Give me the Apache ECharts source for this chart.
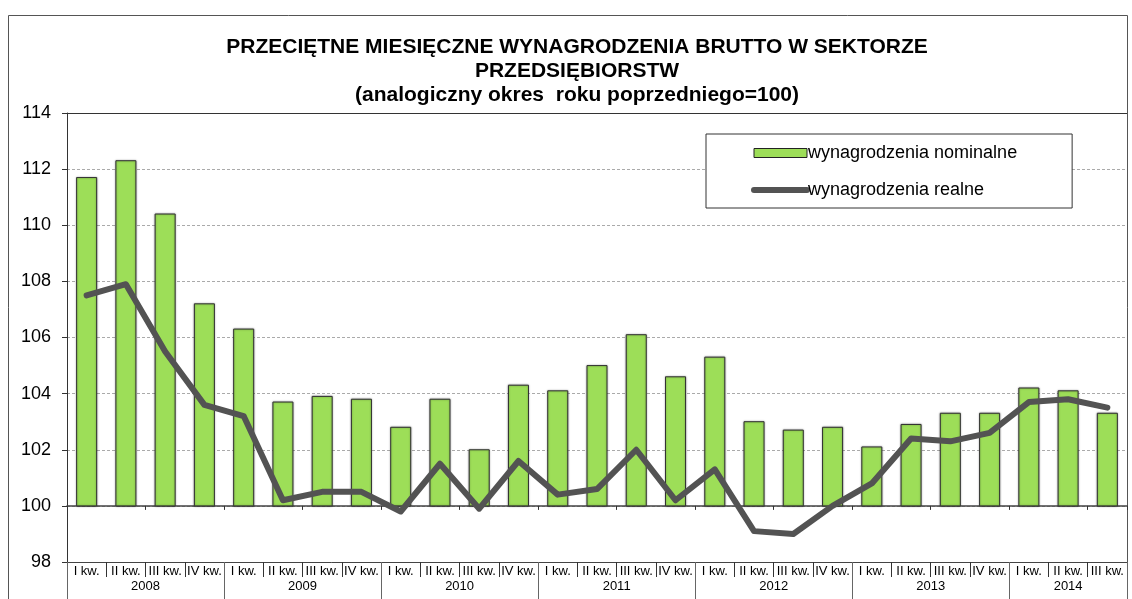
<!DOCTYPE html>
<html>
<head>
<meta charset="utf-8">
<script src="https://cdn.jsdelivr.net/npm/echarts@6/dist/echarts.min.js"></script>
<style>
html,body{margin:0;padding:0;background:#fff;}
#c{width:1132px;height:599px;}
</style>
</head>
<body>
<div id="c"></div>
<script>
// ---- data ----
const quarterLabels = ['I kw.','II kw.','III kw.','IV kw.'];
const years = ['2008','2009','2010','2011','2012','2013','2014'];
const quartersPerYear = [4,4,4,4,4,4,3];
const nominal = [111.7,112.3,110.4,107.2, 106.3,103.7,103.9,103.8, 102.8,103.8,102.0,104.3, 104.1,105.0,106.1,104.6, 105.3,103.0,102.7,102.8, 102.1,102.9,103.3,103.3, 104.2,104.1,103.3];
const real    = [107.5,107.9,105.5,103.6, 103.2,100.2,100.5,100.5, 99.8,101.5,99.9,101.6, 100.4,100.6,102.0,100.2, 101.3,99.1,99.0,100.0, 100.8,102.4,102.3,102.6, 103.7,103.8,103.5];
const yTicks = {min:98, max:114, interval:2};
const baseValue = 100;
const titleLines = ['PRZECIĘTNE MIESIĘCZNE WYNAGRODZENIA BRUTTO W SEKTORZE','PRZEDSIĘBIORSTW','(analogiczny okres  roku poprzedniego=100)'];
const seriesNames = ['wynagrodzenia nominalne','wynagrodzenia realne'];

// build categories
const categories = [];
years.forEach((y,yi)=>{
  for(let q=0;q<quartersPerYear[yi];q++){ categories.push(quarterLabels[q]); }
});
const yearLabelIdx = {};
const yearStartIdx = new Set();
let start = 0;
years.forEach((y,yi)=>{ yearStartIdx.add(start); yearLabelIdx[start+1] = yi; start += quartersPerYear[yi]; });

const W = 1132, H = 599;
const G = {left:67, right:5, top:113, bottom:37};
const gridH = H - G.top - G.bottom;
const catW = (W - G.left - G.right) / categories.length;
const baseOffset = -gridH * (baseValue - yTicks.min) / (yTicks.max - yTicks.min);

const FONT = 'Arial, "Liberation Sans", sans-serif';
const green = '#9dde58';
const gray = '#535353';

const chart = echarts.init(document.getElementById('c'), null, {renderer:'canvas'});
chart.setOption({
  animation:false,
  backgroundColor:'#fff',
  textStyle:{fontFamily:FONT},
  title:{
    text: titleLines.join('\n'),
    left: 577, top: 35, textAlign:'center', padding:0,
    textStyle:{fontFamily:FONT, fontSize:21, fontWeight:'bold', color:'#000', lineHeight:24}
  },
  graphic:[{
    type:'rect', silent:true, z:-1,
    shape:{x:8.5, y:15.5, width:1119, height:620},
    style:{fill:null, stroke:'#555', lineWidth:1}
  }],
  legend:{
    orient:'vertical',
    left:706, top:134,
    padding:[10,55,9,45],
    itemGap:19,
    itemWidth:53, itemHeight:9,
    borderColor:'#333', borderWidth:1,
    backgroundColor:'#fff',
    textStyle:{fontFamily:FONT, fontSize:18, color:'#000', padding:[0,0,0,-4]},
    data:[
      {name:seriesNames[0], icon:'rect', itemStyle:{color:green, borderColor:'#222', borderWidth:1}},
      {name:seriesNames[1], itemStyle:{opacity:0}, lineStyle:{color:gray, width:6, cap:'round'}}
    ]
  },
  grid:{left:G.left, right:G.right, top:G.top, bottom:G.bottom, containLabel:false},
  xAxis:[
    { // quarter labels at the bottom (98)
      type:'category', data:categories, position:'bottom', boundaryGap:true,
      axisLine:{show:true, lineStyle:{color:'#444', width:1}},
      axisTick:{show:true, alignWithLabel:false, length:15, lineStyle:{color:'#333'}},
      axisLabel:{interval:0, fontSize:13, color:'#000', margin:3, fontFamily:FONT},
      splitLine:{show:false}
    },
    { // year labels
      type:'category', data:categories, position:'bottom', boundaryGap:true,
      axisLine:{show:false},
      axisTick:{show:true, length:37, interval:(i)=>yearStartIdx.has(i), lineStyle:{color:'#666'}},
      axisLabel:{
        interval:0, margin:18, fontSize:13, color:'#000', fontFamily:FONT,
        formatter:(v,i)=>{
          if(!(i in yearLabelIdx)) return '';
          const yi = yearLabelIdx[i];
          return quartersPerYear[yi]===4 ? '{f|'+years[yi]+'}' : '{p|'+years[yi]+'}';
        },
        rich:{
          f:{fontSize:13, fontFamily:FONT, color:'#000', padding:[0,0,0,catW]},
          p:{fontSize:13, fontFamily:FONT, color:'#000'}
        }
      }
    },
    { // baseline axis at 100
      type:'category', data:categories, position:'bottom', offset:baseOffset, boundaryGap:true,
      axisLine:{show:true, lineStyle:{color:'#444', width:1.5}},
      axisTick:{show:true, length:4, lineStyle:{color:'#333'}},
      axisLabel:{show:false}
    }
  ],
  yAxis:{
    type:'value', min:yTicks.min, max:yTicks.max, interval:yTicks.interval,
    axisLine:{show:true, lineStyle:{color:'#333', width:1}},
    axisTick:{show:true, length:5, lineStyle:{color:'#333'}},
    axisLabel:{fontSize:18, color:'#000', margin:16, fontFamily:FONT},
    splitLine:{show:true, lineStyle:{color:'#aaa', type:[3,2], width:1}}
  },
  series:[
    {
      name:seriesNames[0], type:'custom', xAxisIndex:0,
      itemStyle:{color:green},
      encode:{x:0, y:1},
      data: nominal.map((v,i)=>[i,v]),
      z:2,
      renderItem:(params, api)=>{
        const i = api.value(0), v = api.value(1);
        const top = api.coord([i, v]);
        const base = api.coord([i, baseValue]);
        const w = api.size([1,0])[0]*0.51;
        return {
          type:'rect',
          shape:{x:top[0]-w/2, y:top[1], width:w, height:base[1]-top[1]},
          style:{fill:green, stroke:'#333', lineWidth:1, shadowBlur:2, shadowColor:'rgba(0,0,0,0.35)'}
        };
      }
    },
    {
      name:seriesNames[1], type:'line', xAxisIndex:0,
      data: real,
      symbol:'none', z:5,
      itemStyle:{color:gray},
      lineStyle:{color:gray, width:6, cap:'round', join:'round'},
      markLine:{
        silent:true, symbol:'none', label:{show:false},
        lineStyle:{color:'#333', type:'solid', width:1},
        data:[{yAxis:yTicks.max}]
      }
    }
  ]
});
</script>
</body>
</html>
